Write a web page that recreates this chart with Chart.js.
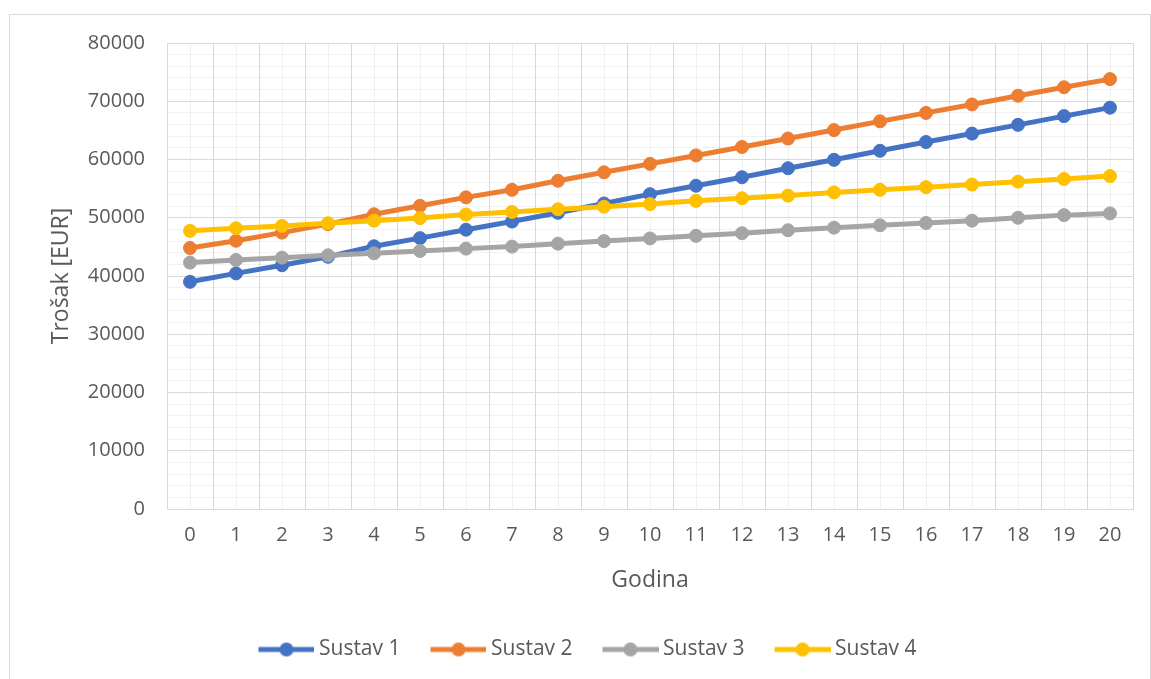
<!DOCTYPE html>
<html>
<head>
<meta charset="utf-8">
<script src="https://cdn.jsdelivr.net/npm/chart.js@4.4.1/dist/chart.umd.min.js"></script>
<style>
  html, body { margin: 0; padding: 0; background: #fff; }
  #wrap { width: 1151px; height: 679px; }
</style>
</head>
<body>
<div id="wrap"><canvas id="c" width="1151" height="679"></canvas></div>
<script>
const years = [0, 1, 2, 3, 4, 5, 6, 7, 8, 9, 10, 11, 12, 13, 14, 15, 16, 17, 18, 19, 20]
const sustav1 = [39000, 40450, 41850, 43300, 45100, 46500, 47950, 49350, 50850, 52450, 54050, 55500, 56950, 58500, 59950, 61500, 63000, 64450, 65950, 67450, 68900]
const sustav2 = [44800, 46050, 47450, 48900, 50600, 52050, 53500, 54800, 56350, 57800, 59250, 60700, 62150, 63600, 65050, 66550, 68000, 69450, 70950, 72400, 73800]
const sustav3 = [42300, 42750, 43150, 43550, 43900, 44300, 44700, 45050, 45550, 46000, 46450, 46900, 47350, 47850, 48300, 48700, 49100, 49500, 50000, 50450, 50750]
const sustav4 = [47750, 48200, 48600, 49050, 49500, 49950, 50550, 51000, 51450, 51900, 52350, 52900, 53350, 53800, 54350, 54800, 55250, 55700, 56200, 56650, 57150]
const seriesNames = ['Sustav 1', 'Sustav 2', 'Sustav 3', 'Sustav 4']
const seriesColors = ['#4472C4', '#ED7D31', '#A5A5A5', '#FFC000']

const textColor = '#595959'
const font = '"Open Sans", "Noto Sans", sans-serif'

function points(values) {
    return years.map((x, i) => ({ x: x, y: values[i] }))
}

// legend swatch: line with a dot in the middle, like Excel
function swatch(color) {
    const c = document.createElement('canvas')
    c.width = 62
    c.height = 16
    const g = c.getContext('2d')
    g.strokeStyle = color
    g.lineWidth = 5
    g.beginPath()
    g.moveTo(6, 8)
    g.lineTo(62, 8)
    g.stroke()
    g.fillStyle = color
    g.beginPath()
    g.arc(34, 8, 7, 0, Math.PI * 2)
    g.fill()
    return c
}

const frame = {
    id: 'frame',
    beforeDraw(chart) {
        const ctx = chart.ctx
        ctx.save()
        ctx.fillStyle = '#fff'
        ctx.fillRect(0, 0, chart.width, chart.height)
        ctx.strokeStyle = '#D9D9D9'
        ctx.lineWidth = 1
        ctx.strokeRect(9.5, 14.5, 1141, 700)
        ctx.restore()
    }
}

const allValues = [sustav1, sustav2, sustav3, sustav4]
const datasets = allValues.map((v, i) => ({
    label: seriesNames[i],
    data: points(v),
    borderColor: seriesColors[i],
    backgroundColor: seriesColors[i],
    borderWidth: 5,
    pointRadius: 6.5,
    pointBorderWidth: 1,
    pointHoverRadius: 6.5,
    tension: 0,
    order: 4 - i
}))

new Chart(document.getElementById('c').getContext('2d'), {
    type: 'line',
    data: { datasets: datasets },
    options: {
        responsive: false,
        animation: false,
        layout: { padding: { left: 42, right: 18, top: 43, bottom: 9 } },
        plugins: {
            tooltip: { enabled: false },
            legend: {
                position: 'bottom',
                labels: {
                    usePointStyle: true,
                    pointStyleWidth: 50,
                    padding: 30,
                    color: textColor,
                    font: { family: font, size: 21 },
                    sort: (a, b) => a.datasetIndex - b.datasetIndex,
                    generateLabels(chart) {
                        const items = Chart.defaults.plugins.legend.labels.generateLabels(chart)
                        items.forEach(it => { it.pointStyle = swatch(seriesColors[it.datasetIndex]) })
                        return items
                    }
                }
            }
        },
        scales: {
            x: {
                type: 'linear',
                min: -0.5,
                max: 20.5,
                afterFit(scale) { scale.height = 100 },
                ticks: {
                    stepSize: 0.5,
                    autoSkip: false,
                    maxRotation: 0,
                    padding: 14,
                    color: textColor,
                    font: { family: font, size: 20 },
                    callback: v => Number.isInteger(v) ? String(v) : ''
                },
                grid: {
                    drawTicks: false,
                    color: c => Number.isInteger(c.tick.value) ? 'rgba(0,0,0,0.05)' : '#D9D9D9'
                },
                border: { color: '#D9D9D9' },
                title: {
                    display: true,
                    text: 'Godina',
                    color: textColor,
                    font: { family: font, size: 23 },
                    padding: { top: 0, bottom: 15 }
                }
            },
            y: {
                min: 0,
                max: 80000,
                afterFit(scale) { scale.width = 125 },
                ticks: {
                    stepSize: 2000,
                    autoSkip: false,
                    padding: 22,
                    color: textColor,
                    font: { family: font, size: 20 },
                    callback: v => v % 10000 === 0 ? String(v) : ''
                },
                grid: {
                    drawTicks: false,
                    color: c => c.tick.value % 10000 === 0 ? '#D9D9D9' : 'rgba(0,0,0,0.05)'
                },
                border: { color: '#D9D9D9' },
                title: {
                    display: true,
                    text: 'Trošak [EUR]',
                    color: textColor,
                    font: { family: font, size: 23 },
                    padding: { top: 6, bottom: 0 }
                }
            }
        }
    },
    plugins: [frame]
})
</script>
</body>
</html>
